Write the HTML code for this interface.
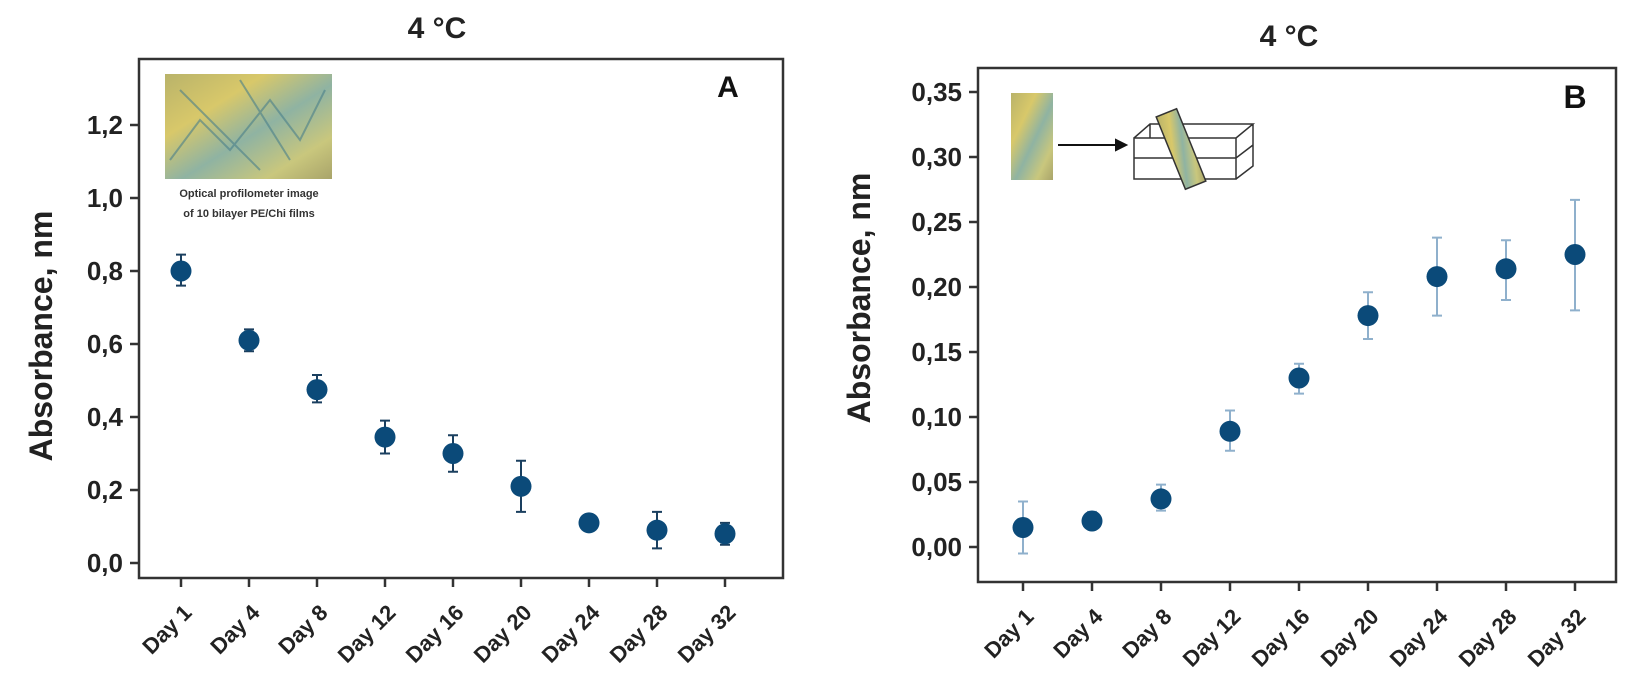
<!DOCTYPE html>
<html><head><meta charset="utf-8"><style>
html,body{margin:0;padding:0;background:#fff;}
svg{display:block;font-family:"Liberation Sans",sans-serif;font-weight:bold;}
</style></head><body>
<svg id="fig" width="1640" height="689" viewBox="0 0 1640 689" xmlns="http://www.w3.org/2000/svg">
<defs>
<linearGradient id="tex" x1="0" y1="0" x2="1" y2="1">
<stop offset="0" stop-color="#b9b36a"/><stop offset="0.3" stop-color="#d8c86a"/><stop offset="0.55" stop-color="#8fb3a2"/><stop offset="0.8" stop-color="#c9c77d"/><stop offset="1" stop-color="#a9a46a"/>
</linearGradient>
</defs>
<g id="panelA"></g>
<g id="panelB"></g>
</svg>
<script>
const categories = ["Day 1","Day 4","Day 8","Day 12","Day 16","Day 20","Day 24","Day 28","Day 32"];
const valuesA = [0.80,0.61,0.475,0.345,0.30,0.21,0.11,0.09,0.08];
const errLowA = [0.76,0.58,0.44,0.30,0.25,0.14,0.09,0.04,0.05];
const errHighA = [0.845,0.64,0.515,0.39,0.35,0.28,0.13,0.14,0.11];
const ticksA = [0,0.2,0.4,0.6,0.8,1.0,1.2];
const tickLabelsA = ["0,0","0,2","0,4","0,6","0,8","1,0","1,2"];
const valuesB = [0.015,0.020,0.037,0.089,0.130,0.178,0.208,0.214,0.225];
const errLowB = [-0.005,0.015,0.028,0.074,0.118,0.160,0.178,0.190,0.182];
const errHighB = [0.035,0.027,0.048,0.105,0.141,0.196,0.238,0.236,0.267];
const ticksB = [0,0.05,0.10,0.15,0.20,0.25,0.30,0.35];
const tickLabelsB = ["0,00","0,05","0,10","0,15","0,20","0,25","0,30","0,35"];

const NS="http://www.w3.org/2000/svg";
function mk(parent,tag,attrs,text){const e=document.createElementNS(NS,tag);for(const k in attrs)e.setAttribute(k,attrs[k]);if(text!==undefined)e.textContent=text;parent.appendChild(e);return e;}

function drawPanel(g,cfg){
  const yScale=v=>cfg.y0-v*cfg.ppu;
  const xScale=i=>cfg.x0+i*cfg.step;
  let e;
  e=mk(g,"rect",{x:cfg.left,y:cfg.top,width:cfg.right-cfg.left,height:cfg.bottom-cfg.top,fill:"none",stroke:"#333","stroke-width":2.5});
  
  
  e=mk(g,"text",{x:cfg.titleX,y:cfg.titleY,"font-size":30,"text-anchor":"middle",fill:"#222"},"4 °C");
  
  
  e=mk(g,"text",{x:cfg.panelX,y:cfg.panelY,"font-size":cfg.panelSize,"text-anchor":"middle",fill:"#111"},cfg.panel);
  
  
  e=mk(g,"text",{x:cfg.ylabX,y:cfg.ylabY,"font-size":32,"text-anchor":"middle",fill:"#222",transform:`rotate(-90 ${cfg.ylabX} ${cfg.ylabY})`},"Absorbance, nm");
  
  
  cfg.ticks.forEach((t,i)=>{
    const y=yScale(t);
    e=mk(g,"line",{x1:cfg.left-9,x2:cfg.left,y1:y,y2:y,stroke:"#333","stroke-width":2.5});
    
    
    e=mk(g,"text",{x:cfg.left-16,y:y+9,"font-size":26,"text-anchor":"end",fill:"#222"},cfg.tickLabels[i]);
    
    
  });
  categories.forEach((c,i)=>{
    const x=xScale(i);
    e=mk(g,"line",{x1:x,x2:x,y1:cfg.bottom,y2:cfg.bottom+9,stroke:"#333","stroke-width":2.5});
    
    
    e=mk(g,"text",{x:x+12,y:cfg.bottom+36,"font-size":22,"text-anchor":"end",fill:"#222",transform:`rotate(-45 ${x+12} ${cfg.bottom+36})`},c);
    
    
  });
  cfg.values.forEach((v,i)=>{
    const x=xScale(i),yl=yScale(cfg.lo[i]),yh=yScale(cfg.hi[i]);
    e=mk(g,"path",{d:`M${x},${yl}V${yh}M${x-5},${yl}H${x+5}M${x-5},${yh}H${x+5}`,stroke:cfg.errColor,"stroke-width":2,fill:"none"});
    
    
    e=mk(g,"circle",{cx:x,cy:yScale(v),r:10.5,fill:"#0b4a79"});
    
    
  });
}

const gA=document.getElementById("panelA");
drawPanel(gA,{left:139,right:783,top:59,bottom:578,y0:563,ppu:365,x0:181,step:68,values:valuesA,lo:errLowA,hi:errHighA,ticks:ticksA,tickLabels:tickLabelsA,
  titleX:437,titleY:38,panel:"A",panelX:728,panelY:97,panelSize:30,ylabX:52,ylabY:336,errColor:"#1a3f5f"});
const gB=document.getElementById("panelB");
drawPanel(gB,{left:978,right:1616,top:68,bottom:582,y0:547,ppu:1300,x0:1023,step:69,values:valuesB,lo:errLowB,hi:errHighB,ticks:ticksB,tickLabels:tickLabelsB,
  titleX:1289,titleY:46,panel:"B",panelX:1575,panelY:108,panelSize:32,ylabX:870,ylabY:298,errColor:"#8fb0cc"});

let e;
e=mk(gA,"rect",{x:165,y:74,width:167,height:105,fill:"url(#tex)"});


e=mk(gA,"path",{d:"M170,160 L200,120 L230,150 L270,100 L300,140 L325,90 M180,90 L220,130 L260,170 M240,80 L290,160",stroke:"#4a7f8a","stroke-width":2,fill:"none",opacity:0.6});


e=mk(gA,"text",{x:249,y:197,"font-size":11,"text-anchor":"middle",fill:"#333"},"Optical profilometer image");


e=mk(gA,"text",{x:249,y:217,"font-size":11,"text-anchor":"middle",fill:"#333"},"of 10 bilayer PE/Chi films");



e=mk(gB,"rect",{x:1011,y:93,width:42,height:87,fill:"url(#tex)"});


e=mk(gB,"path",{d:"M1058,145 H1124 M1116,140 L1126,145 L1116,150 Z",stroke:"#111","stroke-width":2,fill:"#111"});


e=mk(gB,"path",{d:"M1134,138 H1236 V179 H1134 Z M1134,138 L1150,124 H1253 L1236,138 M1253,124 V166 L1236,179 M1134,158 H1236 L1253,145 M1150,124 V138",stroke:"#333","stroke-width":1.5,fill:"none"});


e=mk(gB,"rect",{x:1170,y:110,width:22,height:78,fill:"url(#tex)",stroke:"#333","stroke-width":1.5,transform:"rotate(-22 1181 149)"});


</script>
</body></html>
